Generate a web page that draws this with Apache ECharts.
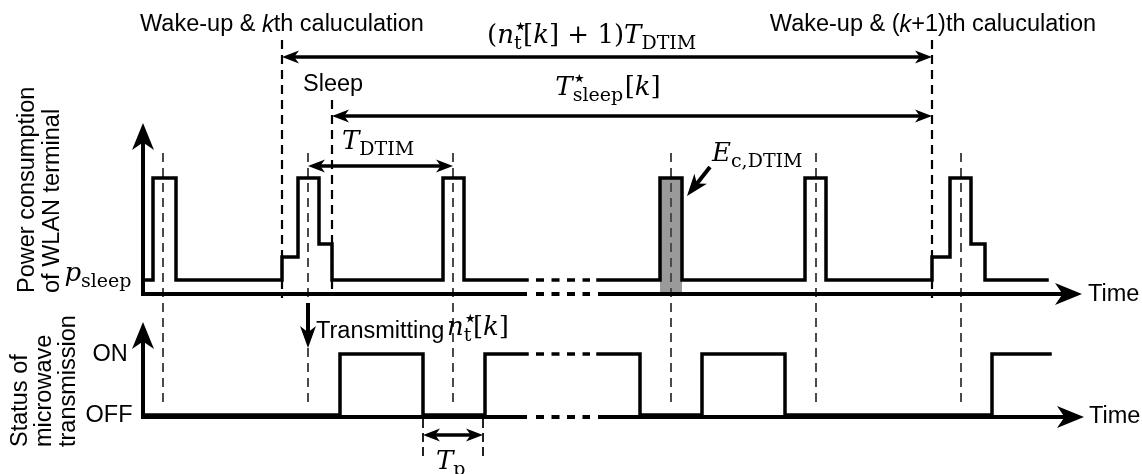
<!DOCTYPE html>
<html><head><meta charset="utf-8">
<script src="https://cdn.jsdelivr.net/npm/echarts@6/dist/echarts.min.js"></script>
<style>html,body{margin:0;padding:0;background:#fff}#c{width:1142px;height:474px}</style>
</head><body><div id="c"></div>
<script>
// ---- data (figure units: x = time axis, y = vertical level) ----
const beaconTimes = [163, 308, 453, 671, 816, 961];
const powerX1 = [143,153,153,176,176,282,282,298,298,319,319,332,332,443,443,464,464,527];
const powerY1 = [280,280,178,178,280,280,257,257,178,178,244,244,280,280,178,178,280,280];
const powerX2 = [598,660,660,682,682,805,805,826,826,932,932,950,950,971,971,985,985,1047];
const powerY2 = [280,280,178,178,280,280,178,178,280,280,257,257,178,178,244,244,280,280];
const mwX1 = [143,340,340,423,423,485,485,527];
const mwY1 = [415,415,354,354,415,415,354,354];
const mwX2 = [598,640,640,702,702,785,785,992,992,1050];
const mwY2 = [354,354,415,415,354,354,415,415,354,354];
const signalBreaks = [[536,280,590,280],[536,354,590,354]];
const energyBar = [[660,178,682,294]];
const axisLines = [[141,294,527,294],[141,417,527,417]];
const axisBreaks = [[536,294,590,294],[536,417,590,417]];
const axisArrows = [[598,294,1082,294],[598,417,1084,417],[143,296,143,123],[143,419,143,322]];
const spanArrows = [[282,57,932,57],[332,116,932,116],[308,166,453,166],[423,435,483,435]];
const pointerArrows = [[710,167,687,196],[308,303,308,348]];
const wakeDashes = [[282,40,282,298],[932,40,932,298],[332,100,332,294]];
const tpTicks = [[423,419,423,457],[483,419,483,457]];
const beaconTop = 153, beaconBottom = 405;

const sansTexts = ['Wake-up & {i|k}th caluculation','Wake-up & ({i|k}+1)th caluculation','Sleep','Transmitting','ON','OFF','Time','Time'];
const sansX = [282, 933, 303, 316, 110, 109, 1088, 1089];
const sansY = [25, 25, 85, 332, 355, 416, 295, 417];
const sansAlign = ['center','center','left','left','center','center','left','left'];

const rotTexts = ['Power consumption','of WLAN terminal','Status of','microwave','transmission'];
const rotX = [28, 53, 21, 45, 69];
const rotY = [293, 293, 447, 447, 447];

const mathTexts = [
  [['(','rm'],['n','it'],['\u22C6','sup'],['t','sub'],['[','rm'],['k','it'],[']','rm'],[' + 1)','rm'],['T','it'],['DTIM','sub']],
  [['T','it'],['\u22C6','sup'],['sleep','sub'],['[','rm'],['k','it'],[']','rm']],
  [['T','it'],['DTIM','sub']],
  [['E','it'],['c,DTIM','sub']],
  [['p','it'],['sleep','sub']],
  [['n','it'],['\u22C6','sup'],['t','sub'],['[','rm'],['k','it'],[']','rm']],
  [['T','it'],['p','sub']]
];
const mathX = [487, 608, 342, 712, 133, 447, 436];
const mathY = [36, 88, 142, 154, 274, 328, 462];
const mathAlign = ['left','center','left','left','right','left','left'];

// ---- rendering ----
const SANS = '"Liberation Sans", Arial, Helvetica, sans-serif';
const SERIF = '"DejaVu Serif", "Liberation Serif", serif';
const STAR = '"DejaVu Sans", sans-serif';
const MAIN = 26, SUB = 19, SUP = 24, SANS_SIZE = 23.5;
const chart = echarts.init(document.getElementById('c'));
const mctx = document.createElement('canvas').getContext('2d');
function measure(t, size, it, fam){ mctx.font = (it?'italic ':'') + size + 'px ' + (fam||SERIF); return mctx.measureText(t).width; }
function layoutMath(pieces){
  let x = 0; const out = [];
  pieces.forEach(([t,k]) => {
    if (k==='it' || k==='rm'){ out.push({t, dx:x, dy:0, size:MAIN, it:k==='it', fam:SERIF}); x += measure(t, MAIN, k==='it'); }
    else if (k==='sub'){ out.push({t, dx:x, dy:MAIN*0.3, size:SUB, it:false, fam:SERIF}); x += measure(t, SUB, false)+1.5; }
    else { out.push({t, dx:x-1, dy:-MAIN*0.3, size:SUP, it:false, fam:STAR}); }
  });
  return {out, w:x};
}
const mathLayouts = mathTexts.map(layoutMath);

function pts(xs, ys){ return xs.map((x,i)=>[x, ys[i]]); }
function lineSer(data){
  return {type:'line', data, symbol:'none', silent:true, animation:false, z:5,
    lineStyle:{color:'#000', width:3.5, join:'miter', cap:'square'}};
}
function segSeries(rows, style, z){
  return {type:'custom', data:rows, silent:true, animation:false, z,
    renderItem:(p, api)=>{
      const a = api.coord([api.value(0), api.value(1)]), b = api.coord([api.value(2), api.value(3)]);
      return {type:'line', shape:{x1:a[0],y1:a[1],x2:b[0],y2:b[1]}, style:Object.assign({stroke:'#000', fill:null}, style)};
    }};
}
function head(tip, ux, uy, len, wid){
  const px=-uy, py=ux, bx=tip[0]-ux*len, by=tip[1]-uy*len, nx=tip[0]-ux*len*0.72, ny=tip[1]-uy*len*0.72;
  return {type:'polygon', shape:{points:[tip,[bx+px*wid/2,by+py*wid/2],[nx,ny],[bx-px*wid/2,by-py*wid/2]]}, style:{fill:'#000'}};
}
function arrowSeries(rows, both, len, wid, lw, z){
  return {type:'custom', data:rows, silent:true, animation:false, z,
    renderItem:(p, api)=>{
      const a = api.coord([api.value(0), api.value(1)]), b = api.coord([api.value(2), api.value(3)]);
      const dx=b[0]-a[0], dy=b[1]-a[1], L=Math.hypot(dx,dy), ux=dx/L, uy=dy/L;
      const s = both ? [a[0]+ux*len*0.6, a[1]+uy*len*0.6] : a;
      const e = [b[0]-ux*len*0.6, b[1]-uy*len*0.6];
      const ch = [{type:'line', shape:{x1:s[0],y1:s[1],x2:e[0],y2:e[1]}, style:{stroke:'#000', lineWidth:lw}}, head(b,ux,uy,len,wid)];
      if (both) ch.push(head(a,-ux,-uy,len,wid));
      return {type:'group', children:ch};
    }};
}
const beaconRows = beaconTimes.map(t=>[t, beaconTop, t, beaconBottom]);

const series = [
  {type:'custom', data:energyBar, silent:true, animation:false, z:1,
   renderItem:(p, api)=>{
     const a = api.coord([api.value(0), api.value(1)]), b = api.coord([api.value(2), api.value(3)]);
     return {type:'rect', shape:{x:a[0], y:a[1], width:b[0]-a[0], height:b[1]-a[1]}, style:{fill:'#9a9a9a'}};
   }},
  segSeries(beaconRows, {stroke:'#4a4a4a', lineWidth:2, lineDash:[9,6]}, 2),
  segSeries(wakeDashes, {lineWidth:2.2, lineDash:[9,6]}, 2),
  segSeries(tpTicks, {stroke:'#222', lineWidth:2, lineDash:[9,5]}, 2),
  lineSer(pts(powerX1, powerY1)), lineSer(pts(powerX2, powerY2)),
  lineSer(pts(mwX1, mwY1)), lineSer(pts(mwX2, mwY2)),
  segSeries(signalBreaks, {lineWidth:3.5, lineDash:[8,7.5]}, 5),
  segSeries(axisLines, {lineWidth:4}, 6),
  segSeries(axisBreaks, {lineWidth:4, lineDash:[8,7.5]}, 6),
  arrowSeries(axisArrows, false, 27, 22, 4, 6),
  arrowSeries(spanArrows, true, 17, 13, 3.5, 7),
  arrowSeries(pointerArrows, false, 22, 16, 4, 7),
  {type:'custom', data:sansTexts.map((t,i)=>[sansX[i], sansY[i]]), silent:true, animation:false, z:8,
   renderItem:(p, api)=>{
     const c = api.coord([api.value(0), api.value(1)]);
     return {type:'text', x:c[0], y:c[1], style:{text:sansTexts[p.dataIndex], fontFamily:SANS, fontSize:SANS_SIZE, fill:'#000',
       align:sansAlign[p.dataIndex], verticalAlign:'middle', rich:{i:{fontStyle:'italic', fontFamily:SANS, fontSize:SANS_SIZE}}}};
   }},
  {type:'custom', data:rotTexts.map((t,i)=>[rotX[i], rotY[i]]), silent:true, animation:false, z:8,
   renderItem:(p, api)=>{
     const c = api.coord([api.value(0), api.value(1)]);
     return {type:'text', x:c[0], y:c[1], rotation:Math.PI/2, style:{text:rotTexts[p.dataIndex], fontFamily:SANS, fontSize:SANS_SIZE, fill:'#000',
       align:'left', verticalAlign:'middle'}};
   }},
  {type:'custom', data:mathTexts.map((t,i)=>[mathX[i], mathY[i]]), silent:true, animation:false, z:8,
   renderItem:(p, api)=>{
     const c = api.coord([api.value(0), api.value(1)]);
     const L = mathLayouts[p.dataIndex], al = mathAlign[p.dataIndex];
     const off = al==='left' ? 0 : al==='center' ? -L.w/2 : -L.w;
     return {type:'group', children:L.out.map(q=>({type:'text', x:c[0]+off+q.dx, y:c[1]+q.dy,
       style:{text:q.t, fontFamily:q.fam, fontSize:q.size, fontStyle:q.it?'italic':'normal', fill:'#000', align:'left', verticalAlign:'middle'}}))};
   }}
];

chart.setOption({
  animation:false,
  grid:{left:0, right:0, top:0, bottom:0},
  xAxis:{type:'value', min:0, max:1142, show:false},
  yAxis:{type:'value', min:0, max:474, inverse:true, show:false},
  series
});
</script></body></html>
